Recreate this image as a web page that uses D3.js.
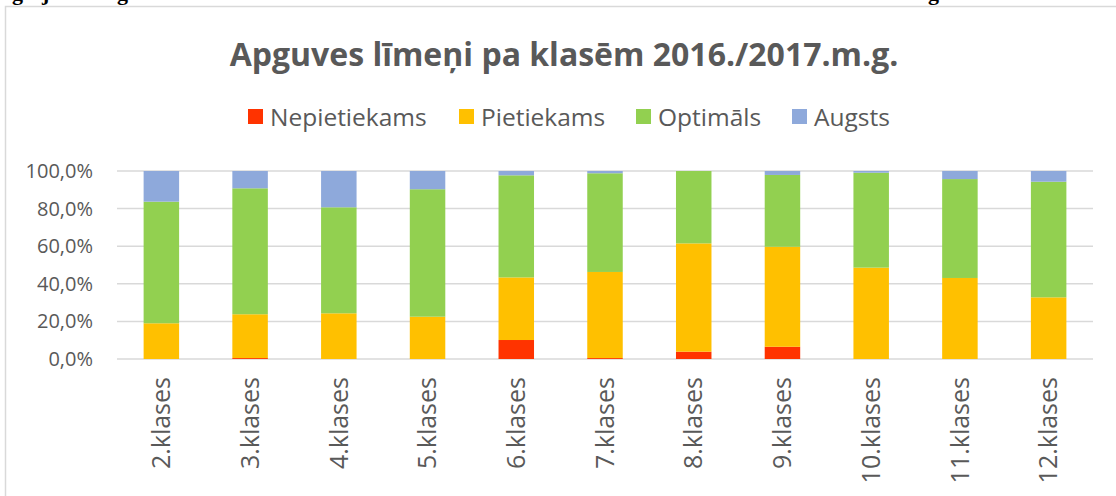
<!DOCTYPE html>
<html>
<head>
<meta charset="utf-8">
<script src="https://cdn.jsdelivr.net/npm/d3@7"></script>
<style>
  body { margin: 0; background: #fff; }
  svg { display: block; }
</style>
</head>
<body>
<div id="chart"></div>
<script>
// Data (shares in %)
const classes = ["2.klases", "3.klases", "4.klases", "5.klases", "6.klases", "7.klases",
                 "8.klases", "9.klases", "10.klases", "11.klases", "12.klases"];
const nepietiekams = [0, 0.5, 0, 0, 10.1, 0.5, 3.9, 6.5, 0, 0, 0];
const pietiekams   = [19.0, 23.3, 24.3, 22.5, 33.3, 45.8, 57.6, 53.2, 48.6, 43.1, 32.8];
const optimals     = [64.7, 67.0, 56.4, 67.8, 54.3, 52.5, 38.5, 38.2, 50.5, 52.6, 61.5];
const augsts       = [16.3, 9.2, 19.3, 9.7, 2.3, 1.2, 0, 2.1, 0.9, 4.3, 5.7];
const yTicks = [0, 20, 40, 60, 80, 100];

const seriesNames = ["Nepietiekams", "Pietiekams", "Optimāls", "Augsts"];
const seriesColors = ["#FF3300", "#FFC000", "#92D050", "#8EA9DB"];

const width = 1116, height = 496;
const plot = { left: 117, right: 1093, top: 171, bottom: 359 };
const textColor = "#595959";
const font = "'Open Sans', 'Liberation Sans', sans-serif";

// build rows for d3.stack
const rows = classes.map((c, i) => ({
    klase: c,
    Nepietiekams: nepietiekams[i],
    Pietiekams: pietiekams[i],
    "Optimāls": optimals[i],
    Augsts: augsts[i]
}));

const svg = d3.select("#chart").append("svg")
    .attr("width", width)
    .attr("height", height);

// fragments of the text line above the chart (only descenders visible)
const topFrag = [{ ch: "g", x: 12 }, { ch: "j", x: 42 }, { ch: "g", x: 117 }, { ch: "g", x: 928 }];
svg.selectAll("text.frag")
    .data(topFrag)
    .enter().append("text")
    .attr("class", "frag")
    .attr("x", d => d.x)
    .attr("y", 0)
    .attr("font-family", "'Liberation Serif', serif")
    .attr("font-weight", "bold")
    .attr("font-size", 22)
    .attr("fill", "#000")
    .text(d => d.ch);

// chart frame
svg.append("rect")
    .attr("x", 5.5)
    .attr("y", 6.5)
    .attr("width", width + 20)
    .attr("height", height + 20)
    .attr("fill", "none")
    .attr("stroke", "#d9d9d9")
    .attr("stroke-width", 1.5);

// title
svg.append("text")
    .attr("x", 564)
    .attr("y", 66)
    .attr("text-anchor", "middle")
    .attr("font-family", font)
    .attr("font-weight", "bold")
    .attr("font-size", 32)
    .attr("fill", textColor)
    .text("Apguves līmeņi pa klasēm 2016./2017.m.g.");

// legend
const legendX = [248, 459, 636, 792];
const legend = svg.selectAll("g.legend")
    .data(seriesNames)
    .enter().append("g")
    .attr("class", "legend")
    .attr("transform", (d, i) => `translate(${legendX[i]}, 109)`);

legend.append("rect")
    .attr("width", 15)
    .attr("height", 15)
    .attr("fill", (d, i) => seriesColors[i]);

legend.append("text")
    .attr("x", 22)
    .attr("y", 8)
    .attr("dy", "0.35em")
    .attr("font-family", font)
    .attr("font-size", 24.5)
    .attr("fill", textColor)
    .text(d => d);

// scales
const x = d3.scaleBand()
    .domain(classes)
    .range([plot.left, plot.right])
    .paddingInner(0.6)
    .paddingOuter(0.3);

const y = d3.scaleLinear()
    .domain([0, 100])
    .range([plot.bottom, plot.top]);

// gridlines
svg.append("g")
    .selectAll("line")
    .data(yTicks)
    .enter().append("line")
    .attr("x1", plot.left)
    .attr("x2", plot.right)
    .attr("y1", d => y(d))
    .attr("y2", d => y(d))
    .attr("stroke", "#d9d9d9")
    .attr("stroke-width", 1.5);

// y axis labels
const yAxis = d3.axisLeft(y)
    .tickValues(yTicks)
    .tickSize(0)
    .tickPadding(0)
    .tickFormat(d => d3.format(".1f")(d).replace(".", ",") + "%");

svg.append("g")
    .attr("transform", "translate(93, 0)")
    .call(yAxis)
    .call(g => g.select(".domain").remove())
    .selectAll("text")
    .attr("font-family", font)
    .attr("font-size", 20)
    .attr("fill", textColor);

// stacked bars
const stack = d3.stack().keys(seriesNames);
const stacked = stack(rows);

svg.append("g")
    .selectAll("g")
    .data(stacked)
    .enter().append("g")
    .attr("fill", (d, i) => seriesColors[i])
    .selectAll("rect")
    .data(d => d)
    .enter().append("rect")
    .attr("x", d => x(d.data.klase))
    .attr("width", x.bandwidth())
    .attr("y", d => y(d[1]))
    .attr("height", d => y(d[0]) - y(d[1]));

// x axis labels (rotated)
const xAxis = d3.axisBottom(x).tickSize(0).tickPadding(0);
svg.append("g")
    .attr("transform", `translate(0, ${plot.bottom})`)
    .call(xAxis)
    .call(g => g.select(".domain").remove())
    .selectAll("text")
    .attr("font-family", font)
    .attr("font-size", 25)
    .attr("fill", textColor)
    .attr("text-anchor", "end")
    .attr("transform", "rotate(-90)")
    .attr("x", -18)
    .attr("y", 0)
    .attr("dy", "0.35em");
</script>
</body>
</html>
